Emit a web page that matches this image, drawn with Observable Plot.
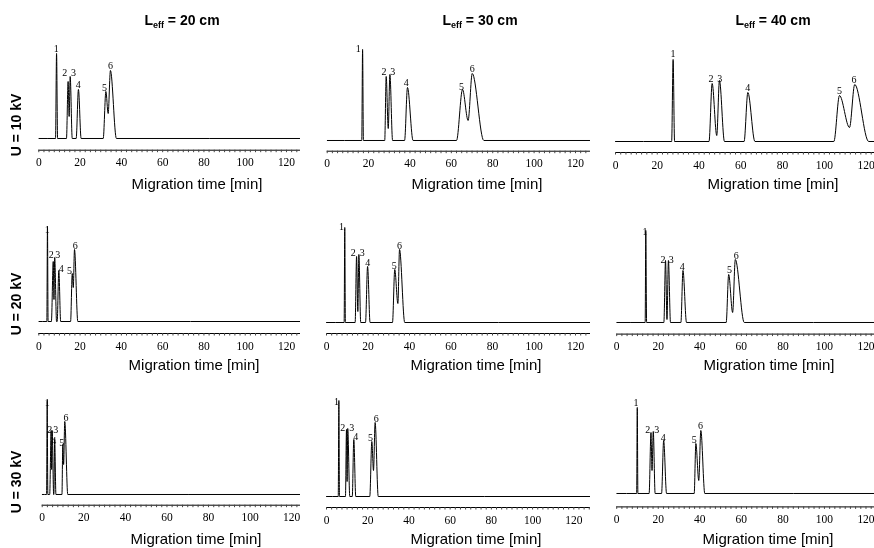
<!DOCTYPE html>
<html><head><meta charset="utf-8">
<script src="https://cdn.jsdelivr.net/npm/d3@7"></script>
<script src="https://cdn.jsdelivr.net/npm/@observablehq/plot@0.6"></script>
<style>
html,body{margin:0;padding:0;background:#fff;}
#chart{position:relative;width:874px;height:548px;overflow:hidden;font-family:"Liberation Sans",Arial,sans-serif;color:#000;}
.abs{position:absolute;white-space:nowrap;line-height:1;}
.title{font-weight:bold;font-size:14px;transform:translate(-50%,-50%);}
.title sub{font-size:9px;line-height:0;vertical-align:-3px;}
.row{font-weight:bold;font-size:14px;transform:translate(-50%,-50%) rotate(-90deg);}
.xlab{font-size:15px;transform:translate(-50%,-50%);}
svg{position:absolute;overflow:visible;will-change:transform;}
</style></head>
<body><div id="chart"></div>
<script>
// ---------- data ----------
const voltages = ["U = 10 kV", "U = 20 kV", "U = 30 kV"];
const lengths = ["20", "30", "40"];
const peakIds = ["1", "2", "3", "4", "5", "6"];
const timeTicks = [0, 20, 40, 60, 80, 100, 120];
const xLabel = "Migration time [min]";

// electropherogram vertices: [time (min), signal]
const trace_10kV_20cm = [[0,0],[8.1,0],[8.6,85],[9.1,0],[13.4,0],[14.2,57],[14.7,22],[15.2,62],[16.2,0],[18.1,0],[19.2,49],[20.5,0],[31.2,0],[32.5,47],[33.6,25],[34.7,68],[37.6,0],[128,0]];
const trace_10kV_30cm = [[0,0],[16.7,0],[17.1,91],[17.5,0],[27.8,0],[28.5,64],[29.5,12],[30.3,66],[31.6,0],[37.4,0],[38.8,53],[41.5,0],[62.5,0],[65.4,51],[68.1,20],[70.1,67],[75.7,0],[128,0]];
const trace_10kV_40cm = [[0,0],[26.9,0],[27.6,82],[28.3,0],[44.8,0],[46.3,58],[48.5,6],[49.8,61],[52.2,0],[61.6,0],[63.4,49],[66.8,0],[104.6,0],[107.3,46],[112.1,14],[114.6,57],[121.3,0],[128,0]];
const trace_20kV_20cm = [[0,0],[3.9,0],[4.2,95],[4.5,0],[6.1,0],[7.0,60],[7.35,22],[7.7,64],[8.6,0],[8.9,0],[9.7,51],[10.6,0],[15.4,0],[16.2,48],[16.7,34],[17.3,72],[18.9,0],[128,0]];
const trace_20kV_30cm = [[0,0],[8.5,0],[8.8,95],[9.1,0],[13.8,0],[14.5,66],[15.1,11],[15.6,68],[16.5,0],[18.8,0],[19.8,56],[21.0,0],[31.8,0],[32.9,53],[34.4,19],[35.2,73],[37.7,0],[128,0]];
const trace_20kV_40cm = [[0,0],[13.7,0],[14.0,92],[14.4,0],[22.7,0],[23.5,62],[24.2,3],[24.9,62],[25.9,0],[30.9,0],[31.9,52],[33.6,0],[52.7,0],[53.9,48],[55.8,10],[57.1,63],[61.4,0],[128,0]];
const trace_30kV_20cm = [[0,0],[2.1,0],[2.4,94],[2.7,0],[3.6,0],[4.3,64],[4.55,25],[4.8,64],[5.5,0],[5.6,0],[6.0,55],[6.6,0],[9.5,0],[9.9,50],[10.3,30],[10.85,73],[12.3,0],[128,0]];
const trace_30kV_30cm = [[0,0],[5.7,0],[6.0,96],[6.3,0],[9.2,0],[9.7,67],[10.0,15],[10.3,68],[11.3,0],[12.5,0],[13.25,57],[14.2,0],[21.0,0],[22.0,55],[22.8,26],[23.6,74],[25.1,0],[128,0]];
const trace_30kV_40cm = [[0,0],[9.6,0],[9.9,86],[10.2,0],[15.6,0],[16.5,61],[17.0,23],[17.6,62],[18.5,0],[21.6,0],[22.6,53],[24.0,0],[37.3,0],[38.1,50],[39.5,13],[40.5,63],[42.4,0],[128,0]];

// peak number label anchors: [time (min), signal], in order of peakIds
const labels_10kV_20cm = [[8.4,90],[12.6,66],[16.8,66],[19.1,54],[31.8,51],[34.7,73]];
const labels_10kV_30cm = [[15.0,92],[27.5,69],[31.7,69],[38.2,58],[64.9,54],[70.1,72]];
const labels_10kV_40cm = [[27.6,88],[45.8,63],[49.9,63],[63.4,54],[107.3,51],[114.3,62]];
const labels_20kV_20cm = [[4.1,92],[6.0,67],[9.2,67],[10.9,53],[14.9,51],[17.6,76]];
const labels_20kV_30cm = [[7.2,96],[12.9,70],[17.2,70],[19.9,60],[32.6,57],[35.2,77]];
const labels_20kV_40cm = [[13.6,91],[22.3,63],[26.3,63],[31.6,56],[54.3,53],[57.5,67]];
const labels_30kV_20cm = [[2.4,92],[3.6,65],[6.5,65],[5.6,54],[9.4,52],[11.5,77]];
const labels_30kV_30cm = [[4.9,95],[7.9,69],[12.3,69],[14.2,60],[21.4,59],[24.1,78]];
const labels_30kV_40cm = [[9.3,91],[15.0,64],[19.3,64],[22.4,56],[37.3,54],[40.3,68]];

const traces = [
  [trace_10kV_20cm, trace_10kV_30cm, trace_10kV_40cm],
  [trace_20kV_20cm, trace_20kV_30cm, trace_20kV_40cm],
  [trace_30kV_20cm, trace_30kV_30cm, trace_30kV_40cm]
];
const peakLabels = [
  [labels_10kV_20cm, labels_10kV_30cm, labels_10kV_40cm],
  [labels_20kV_20cm, labels_20kV_30cm, labels_20kV_40cm],
  [labels_30kV_20cm, labels_30kV_30cm, labels_30kV_40cm]
];

// ---------- layout (pixels) ----------
const colLeft = [0, 290, 580], colWidth = [290, 290, 294], colEnd = [300, 590, 874];
// per panel: [x of 0 min, x of 120 min, axis line y, baseline y]
const layout = [
  [[38.3,286,150,138.3],[326.7,575,150.7,140],[615,865.5,151.7,140.7]],
  [[38.3,286,332.7,320.7],[326,575,333.3,322.3],[616.2,865.5,333.3,321.7]],
  [[41.7,291.2,505,494.3],[326,573.3,506.7,495.7],[616.2,865.5,506.7,493.3]]
];
const titleX = [182, 480, 773], titleY = 20;
const rowLabelY = [125, 304, 482], rowLabelX = 16;
const xLabelX = [[197,477,773],[194,476,769],[196,476,768]];
const xLabelY = [183, 363.5, 537.5];

const chart = document.getElementById("chart");

for (let r = 0; r < 3; r++) {
  for (let c = 0; c < 3; c++) {
    const [x0, x120, axisY, baseY] = layout[r][c];
    const left = colLeft[c], W = colWidth[c];
    const tEnd = 120 * (colEnd[c] - x0) / (x120 - x0);
    const gap = axisY - baseY;
    const mt = 20, mb = 30, innerH = gap + 100;
    const H = mt + innerH + mb;
    const labs = peakLabels[r][c].map((d, i) => ({t: d[0], s: d[1], id: peakIds[i]}));
    const plot = Plot.plot({
      width: W, height: H,
      marginLeft: x0 - left, marginRight: left + W - colEnd[c],
      marginTop: mt, marginBottom: mb,
      style: {background: "transparent", overflow: "visible", color: "#000", fontFamily: "Liberation Serif"},
      x: {domain: [0, tEnd]},
      y: {domain: [-gap, 100], axis: null},
      marks: [
        Plot.ruleY([-gap], {stroke: "#000", strokeWidth: 1}),
        Plot.axisX({ticks: d3.range(0, tEnd, 2.5), tickSize: 2.5, tickFormat: () => "", stroke: "#444", label: null}),
        Plot.axisX({ticks: timeTicks, tickSize: 0, tickPadding: 8, fontSize: 11.5, fontFamily: "Liberation Serif", label: null}),
        Plot.line(traces[r][c], {x: d => d[0], y: d => d[1], curve: "monotone-x", stroke: "#000", strokeWidth: 1, clip: true}),
        Plot.text(labs, {x: "t", y: "s", text: "id", fontSize: 10, fontFamily: "Liberation Serif", fill: "#000"})
      ]
    });
    plot.style.left = left + "px";
    plot.style.top = (axisY - mt - innerH) + "px";
    chart.appendChild(plot);

    const xl = document.createElement("div");
    xl.className = "abs xlab";
    xl.textContent = xLabel;
    xl.style.left = xLabelX[r][c] + "px";
    xl.style.top = xLabelY[r] + "px";
    chart.appendChild(xl);
  }
}

lengths.forEach((L, c) => {
  const t = document.createElement("div");
  t.className = "abs title";
  t.innerHTML = "L<sub>eff</sub> = " + L + " cm";
  t.style.left = titleX[c] + "px";
  t.style.top = titleY + "px";
  chart.appendChild(t);
});
voltages.forEach((v, r) => {
  const d = document.createElement("div");
  d.className = "abs row";
  d.textContent = v;
  d.style.left = rowLabelX + "px";
  d.style.top = rowLabelY[r] + "px";
  chart.appendChild(d);
});
</script></body></html>
